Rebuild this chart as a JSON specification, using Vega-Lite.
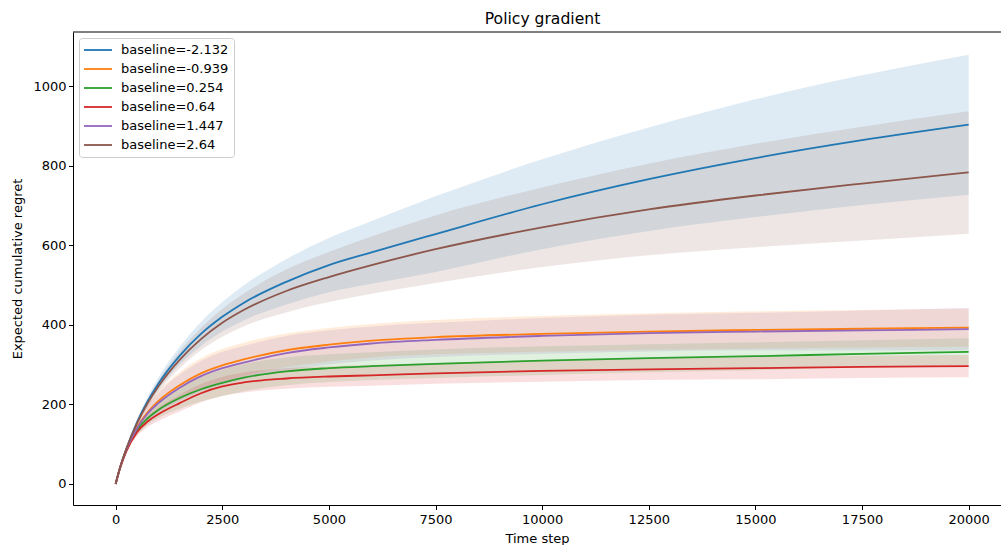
{
  "$schema": "https://vega.github.io/schema/vega-lite/v6.json",
  "autosize": {"type": "none"},
  "padding": {"left": 73, "top": 32, "right": 0, "bottom": 40},
  "width": 928,
  "height": 473,
  "background": "white",
  "title": {"text": "Policy gradient", "font": "DejaVu Sans", "fontSize": 15.6, "fontWeight": "normal", "color": "black", "anchor": "middle", "dx": 5.5, "offset": 4},
  "config": {
    "view": {"stroke": null},
    "axis": {"domainColor": "black", "tickColor": "black", "labelColor": "black", "titleColor": "black", "labelFont": "DejaVu Sans", "titleFont": "DejaVu Sans", "labelFontSize": 13, "titleFontSize": 13, "titleFontWeight": "normal", "tickSize": 4.5, "labelPadding": 2.5, "grid": false, "domainWidth": 1, "tickWidth": 1},
    "legend": {"orient": "top-left", "offset": 6, "symbolType": "M-1.1667,0H3.5", "symbolSize": 144, "symbolStrokeWidth": 1.8, "symbolOpacity": 1, "labelFont": "DejaVu Sans", "labelFontSize": 13, "labelColor": "black", "strokeColor": "#cccccc", "fillColor": "rgba(255,255,255,0.8)", "padding": 5, "cornerRadius": 3, "rowPadding": 5, "labelOffset": 23}
  },
  "data": {"values": [
    {"s": "baseline=-2.132", "t": 0, "m": 0, "lo": 0, "hi": 0},
    {"s": "baseline=-2.132", "t": 100, "m": 40, "lo": 38, "hi": 42},
    {"s": "baseline=-2.132", "t": 250, "m": 88, "lo": 84, "hi": 92},
    {"s": "baseline=-2.132", "t": 500, "m": 155, "lo": 148, "hi": 162},
    {"s": "baseline=-2.132", "t": 750, "m": 208, "lo": 197, "hi": 219},
    {"s": "baseline=-2.132", "t": 1000, "m": 252, "lo": 237, "hi": 267},
    {"s": "baseline=-2.132", "t": 1500, "m": 322, "lo": 300, "hi": 344},
    {"s": "baseline=-2.132", "t": 2000, "m": 377, "lo": 347, "hi": 407},
    {"s": "baseline=-2.132", "t": 2500, "m": 420, "lo": 383, "hi": 457},
    {"s": "baseline=-2.132", "t": 3000, "m": 455, "lo": 411, "hi": 499},
    {"s": "baseline=-2.132", "t": 4000, "m": 508, "lo": 451, "hi": 565},
    {"s": "baseline=-2.132", "t": 5000, "m": 550, "lo": 482, "hi": 618},
    {"s": "baseline=-2.132", "t": 6000, "m": 582, "lo": 503, "hi": 661},
    {"s": "baseline=-2.132", "t": 7500, "m": 628, "lo": 533, "hi": 723},
    {"s": "baseline=-2.132", "t": 10000, "m": 703, "lo": 590, "hi": 816},
    {"s": "baseline=-2.132", "t": 12500, "m": 766, "lo": 636, "hi": 896},
    {"s": "baseline=-2.132", "t": 15000, "m": 819, "lo": 671, "hi": 967},
    {"s": "baseline=-2.132", "t": 17500, "m": 864, "lo": 701, "hi": 1027},
    {"s": "baseline=-2.132", "t": 20000, "m": 903, "lo": 727, "hi": 1079},

    {"s": "baseline=-0.939", "t": 0, "m": 0, "lo": 0, "hi": 0},
    {"s": "baseline=-0.939", "t": 100, "m": 40, "lo": 37, "hi": 43},
    {"s": "baseline=-0.939", "t": 250, "m": 86, "lo": 78, "hi": 94},
    {"s": "baseline=-0.939", "t": 500, "m": 142, "lo": 128, "hi": 156},
    {"s": "baseline=-0.939", "t": 750, "m": 180, "lo": 160, "hi": 200},
    {"s": "baseline=-0.939", "t": 1000, "m": 208, "lo": 183, "hi": 233},
    {"s": "baseline=-0.939", "t": 1500, "m": 248, "lo": 215, "hi": 281},
    {"s": "baseline=-0.939", "t": 2000, "m": 278, "lo": 240, "hi": 316},
    {"s": "baseline=-0.939", "t": 2500, "m": 298, "lo": 257, "hi": 339},
    {"s": "baseline=-0.939", "t": 3000, "m": 313, "lo": 271, "hi": 355},
    {"s": "baseline=-0.939", "t": 4000, "m": 336, "lo": 294, "hi": 378},
    {"s": "baseline=-0.939", "t": 5000, "m": 350, "lo": 308, "hi": 392},
    {"s": "baseline=-0.939", "t": 6000, "m": 360, "lo": 318, "hi": 402},
    {"s": "baseline=-0.939", "t": 7500, "m": 369, "lo": 326, "hi": 412},
    {"s": "baseline=-0.939", "t": 10000, "m": 377, "lo": 332, "hi": 422},
    {"s": "baseline=-0.939", "t": 12500, "m": 383, "lo": 337, "hi": 429},
    {"s": "baseline=-0.939", "t": 15000, "m": 387, "lo": 340, "hi": 434},
    {"s": "baseline=-0.939", "t": 17500, "m": 390, "lo": 343, "hi": 437},
    {"s": "baseline=-0.939", "t": 20000, "m": 393, "lo": 345, "hi": 441},

    {"s": "baseline=0.254", "t": 0, "m": 0, "lo": 0, "hi": 0},
    {"s": "baseline=0.254", "t": 100, "m": 39, "lo": 37, "hi": 41},
    {"s": "baseline=0.254", "t": 250, "m": 84, "lo": 78, "hi": 90},
    {"s": "baseline=0.254", "t": 500, "m": 135, "lo": 123, "hi": 147},
    {"s": "baseline=0.254", "t": 750, "m": 165, "lo": 149, "hi": 181},
    {"s": "baseline=0.254", "t": 1000, "m": 186, "lo": 166, "hi": 206},
    {"s": "baseline=0.254", "t": 1500, "m": 216, "lo": 189, "hi": 243},
    {"s": "baseline=0.254", "t": 2000, "m": 238, "lo": 207, "hi": 269},
    {"s": "baseline=0.254", "t": 2500, "m": 254, "lo": 221, "hi": 287},
    {"s": "baseline=0.254", "t": 3000, "m": 267, "lo": 233, "hi": 301},
    {"s": "baseline=0.254", "t": 4000, "m": 283, "lo": 248, "hi": 318},
    {"s": "baseline=0.254", "t": 5000, "m": 291, "lo": 256, "hi": 326},
    {"s": "baseline=0.254", "t": 6000, "m": 296, "lo": 261, "hi": 331},
    {"s": "baseline=0.254", "t": 7500, "m": 302, "lo": 266, "hi": 338},
    {"s": "baseline=0.254", "t": 10000, "m": 310, "lo": 274, "hi": 346},
    {"s": "baseline=0.254", "t": 12500, "m": 316, "lo": 281, "hi": 351},
    {"s": "baseline=0.254", "t": 15000, "m": 321, "lo": 286, "hi": 356},
    {"s": "baseline=0.254", "t": 17500, "m": 327, "lo": 293, "hi": 361},
    {"s": "baseline=0.254", "t": 20000, "m": 332, "lo": 298, "hi": 366},

    {"s": "baseline=0.64", "t": 0, "m": 0, "lo": 0, "hi": 0},
    {"s": "baseline=0.64", "t": 100, "m": 38, "lo": 36, "hi": 40},
    {"s": "baseline=0.64", "t": 250, "m": 82, "lo": 77, "hi": 87},
    {"s": "baseline=0.64", "t": 500, "m": 130, "lo": 120, "hi": 140},
    {"s": "baseline=0.64", "t": 750, "m": 157, "lo": 143, "hi": 171},
    {"s": "baseline=0.64", "t": 1000, "m": 175, "lo": 158, "hi": 192},
    {"s": "baseline=0.64", "t": 1500, "m": 203, "lo": 182, "hi": 224},
    {"s": "baseline=0.64", "t": 2000, "m": 228, "lo": 205, "hi": 251},
    {"s": "baseline=0.64", "t": 2500, "m": 245, "lo": 221, "hi": 269},
    {"s": "baseline=0.64", "t": 3000, "m": 255, "lo": 230, "hi": 280},
    {"s": "baseline=0.64", "t": 4000, "m": 265, "lo": 239, "hi": 291},
    {"s": "baseline=0.64", "t": 5000, "m": 270, "lo": 244, "hi": 296},
    {"s": "baseline=0.64", "t": 6000, "m": 273, "lo": 247, "hi": 299},
    {"s": "baseline=0.64", "t": 7500, "m": 278, "lo": 252, "hi": 304},
    {"s": "baseline=0.64", "t": 10000, "m": 284, "lo": 257, "hi": 311},
    {"s": "baseline=0.64", "t": 12500, "m": 288, "lo": 261, "hi": 315},
    {"s": "baseline=0.64", "t": 15000, "m": 291, "lo": 263, "hi": 319},
    {"s": "baseline=0.64", "t": 17500, "m": 294, "lo": 266, "hi": 322},
    {"s": "baseline=0.64", "t": 20000, "m": 296, "lo": 268, "hi": 324},

    {"s": "baseline=1.447", "t": 0, "m": 0, "lo": 0, "hi": 0},
    {"s": "baseline=1.447", "t": 100, "m": 40, "lo": 37, "hi": 43},
    {"s": "baseline=1.447", "t": 250, "m": 86, "lo": 78, "hi": 94},
    {"s": "baseline=1.447", "t": 500, "m": 140, "lo": 126, "hi": 154},
    {"s": "baseline=1.447", "t": 750, "m": 177, "lo": 157, "hi": 197},
    {"s": "baseline=1.447", "t": 1000, "m": 203, "lo": 178, "hi": 228},
    {"s": "baseline=1.447", "t": 1500, "m": 242, "lo": 209, "hi": 275},
    {"s": "baseline=1.447", "t": 2000, "m": 271, "lo": 233, "hi": 309},
    {"s": "baseline=1.447", "t": 2500, "m": 291, "lo": 250, "hi": 332},
    {"s": "baseline=1.447", "t": 3000, "m": 305, "lo": 263, "hi": 347},
    {"s": "baseline=1.447", "t": 4000, "m": 329, "lo": 286, "hi": 372},
    {"s": "baseline=1.447", "t": 5000, "m": 343, "lo": 300, "hi": 386},
    {"s": "baseline=1.447", "t": 6000, "m": 353, "lo": 310, "hi": 396},
    {"s": "baseline=1.447", "t": 7500, "m": 362, "lo": 319, "hi": 405},
    {"s": "baseline=1.447", "t": 10000, "m": 372, "lo": 327, "hi": 417},
    {"s": "baseline=1.447", "t": 12500, "m": 379, "lo": 333, "hi": 425},
    {"s": "baseline=1.447", "t": 15000, "m": 383, "lo": 336, "hi": 430},
    {"s": "baseline=1.447", "t": 17500, "m": 386, "lo": 336, "hi": 436},
    {"s": "baseline=1.447", "t": 20000, "m": 389, "lo": 336, "hi": 442},

    {"s": "baseline=2.64", "t": 0, "m": 0, "lo": 0, "hi": 0},
    {"s": "baseline=2.64", "t": 100, "m": 40, "lo": 38, "hi": 42},
    {"s": "baseline=2.64", "t": 250, "m": 88, "lo": 84, "hi": 92},
    {"s": "baseline=2.64", "t": 500, "m": 152, "lo": 145, "hi": 159},
    {"s": "baseline=2.64", "t": 750, "m": 203, "lo": 193, "hi": 213},
    {"s": "baseline=2.64", "t": 1000, "m": 245, "lo": 231, "hi": 259},
    {"s": "baseline=2.64", "t": 1500, "m": 312, "lo": 291, "hi": 333},
    {"s": "baseline=2.64", "t": 2000, "m": 364, "lo": 336, "hi": 392},
    {"s": "baseline=2.64", "t": 2500, "m": 405, "lo": 370, "hi": 440},
    {"s": "baseline=2.64", "t": 3000, "m": 437, "lo": 396, "hi": 478},
    {"s": "baseline=2.64", "t": 4000, "m": 485, "lo": 431, "hi": 539},
    {"s": "baseline=2.64", "t": 5000, "m": 520, "lo": 457, "hi": 583},
    {"s": "baseline=2.64", "t": 6000, "m": 550, "lo": 478, "hi": 622},
    {"s": "baseline=2.64", "t": 7500, "m": 590, "lo": 505, "hi": 675},
    {"s": "baseline=2.64", "t": 10000, "m": 645, "lo": 545, "hi": 745},
    {"s": "baseline=2.64", "t": 12500, "m": 690, "lo": 575, "hi": 805},
    {"s": "baseline=2.64", "t": 15000, "m": 725, "lo": 595, "hi": 855},
    {"s": "baseline=2.64", "t": 17500, "m": 755, "lo": 612, "hi": 898},
    {"s": "baseline=2.64", "t": 20000, "m": 783, "lo": 629, "hi": 937}
  ]},
  "layer": [
    {
      "mark": {"type": "area", "fillOpacity": 0.15, "interpolate": "monotone"},
      "encoding": {
        "x": {"field": "t", "type": "quantitative", "scale": {"domain": [-1000, 20758], "nice": false, "zero": false}, "axis": {"values": [0, 2500, 5000, 7500, 10000, 12500, 15000, 17500, 20000], "format": "d", "title": "Time step", "titlePadding": 6, "labelPadding": 3.5}},
        "y": {"field": "lo", "type": "quantitative", "scale": {"domain": [-53, 1136], "nice": false, "zero": false}, "axis": {"values": [0, 200, 400, 600, 800, 1000], "format": "d", "title": "Expected cumulative regret", "titlePadding": 8}},
        "y2": {"field": "hi"},
        "color": {"field": "s", "type": "nominal", "scale": {"domain": ["baseline=-2.132", "baseline=-0.939", "baseline=0.254", "baseline=0.64", "baseline=1.447", "baseline=2.64"], "range": ["#1f77b4", "#ff7f0e", "#2ca02c", "#d62728", "#9467bd", "#8c564b"]}, "legend": {"title": null}}
      }
    },
    {
      "mark": {"type": "line", "strokeWidth": 1.8, "interpolate": "monotone"},
      "encoding": {
        "x": {"field": "t", "type": "quantitative"},
        "y": {"field": "m", "type": "quantitative"},
        "color": {"field": "s", "type": "nominal", "legend": {"title": null}}
      }
    },
    {
      "data": {"values": [{}]},
      "mark": {"type": "rule", "color": "black", "strokeWidth": 1},
      "encoding": {"y": {"datum": 1136}}
    }
  ]
}
